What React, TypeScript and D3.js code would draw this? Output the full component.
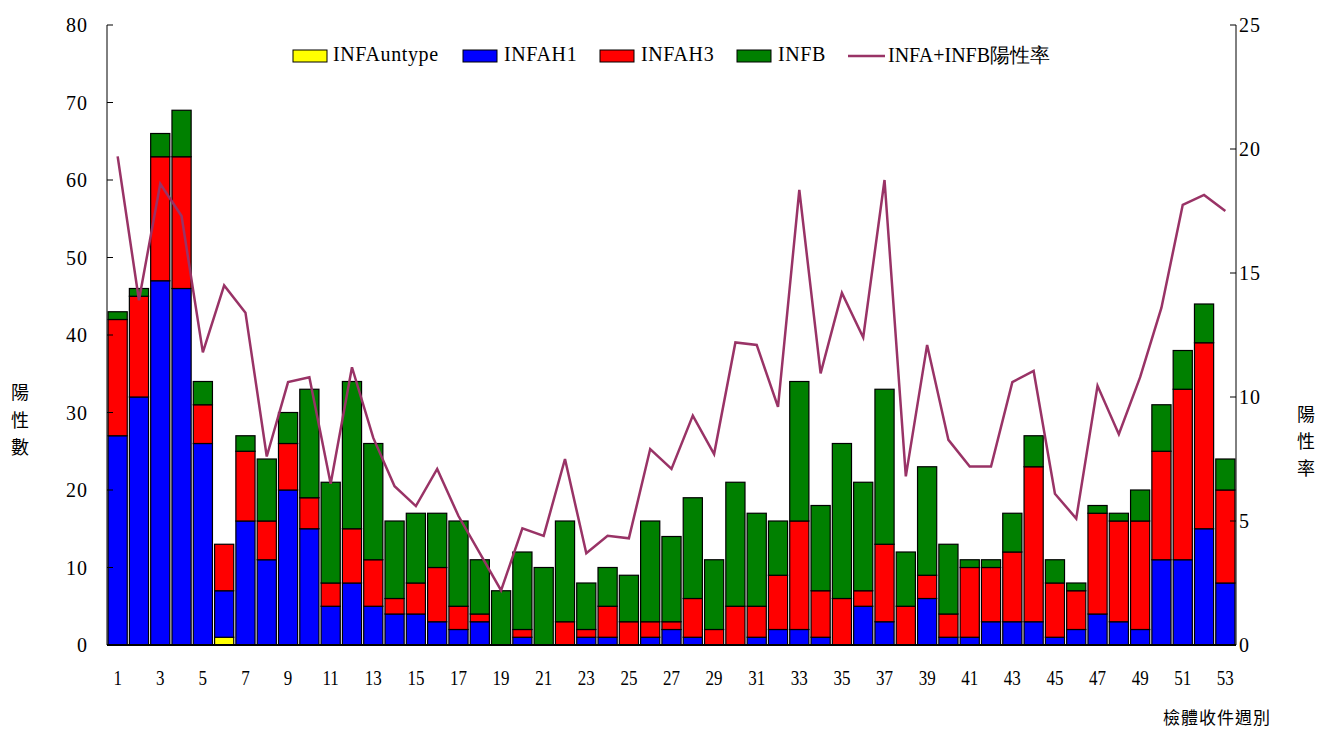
import React from "react";
import * as d3 from "d3";

const weeks = d3.range(1, 54);
const untype = [0,0,0,0,0,1,0,0,0,0,0,0,0,0,0,0,0,0,0,0,0,0,0,0,0,0,0,0,0,0,0,0,0,0,0,0,0,0,0,0,0,0,0,0,0,0,0,0,0,0,0,0,0];
const h1 = [27,32,47,46,26,6,16,11,20,15,5,8,5,4,4,3,2,3,0,1,0,0,1,1,0,1,2,1,0,0,1,2,2,1,0,5,3,0,6,1,1,3,3,3,1,2,4,3,2,11,11,15,8];
const h3 = [15,13,16,17,5,6,9,5,6,4,3,7,6,2,4,7,3,1,0,1,0,3,1,4,3,2,1,5,2,5,4,7,14,6,6,2,10,5,3,3,9,7,9,20,7,5,13,13,14,14,22,24,12];
const infb = [1,1,3,6,3,0,2,8,4,14,13,19,15,10,9,7,11,7,7,10,10,13,6,5,6,13,11,13,9,16,12,7,18,11,20,14,20,7,14,9,1,1,5,4,3,1,1,1,4,6,5,5,4];
const rate = [19.7,13.9,18.6,17.3,11.8,14.5,13.4,7.6,10.6,10.8,6.5,11.2,8.35,6.4,5.6,7.1,5.2,3.7,2.2,4.7,4.4,7.5,3.7,4.4,4.3,7.9,7.1,9.25,7.7,12.2,12.1,9.6,18.35,10.95,14.2,12.4,18.75,6.8,12.1,8.27,7.2,7.2,10.6,11.05,6.1,5.1,10.45,8.5,10.8,13.6,17.75,18.15,17.5];

const leftTicks = [0, 10, 20, 30, 40, 50, 60, 70, 80];
const rightTicks = [0, 5, 10, 15, 20, 25];
const xTickWeeks = weeks.filter((w) => w % 2 === 1);

const seriesKeys = ["INFAuntype", "INFAH1", "INFAH3", "INFB"];
const seriesColors = ["#ffff00", "#0000ff", "#ff0000", "#008000"];
const lineLabel = "INFA+INFB陽性率";
const lineColor = "#993366";

const W = 1318, H = 731;
const L = 107, R = 1236, T = 25, B = 645;
const serif = "'Liberation Serif', 'DejaVu Serif', serif";
const cjk = "'Noto Sans CJK TC', 'Noto Sans CJK SC', sans-serif";

export default function App() {
  const x = d3.scaleBand<number>().domain(weeks).range([L, R]).paddingInner(0.1).paddingOuter(0.05);
  const yL = d3.scaleLinear().domain([0, 80]).range([B, T]);
  const yR = d3.scaleLinear().domain([0, 25]).range([B, T]);

  const table = weeks.map((w, i) => ({
    week: w,
    INFAuntype: untype[i],
    INFAH1: h1[i],
    INFAH3: h3[i],
    INFB: infb[i],
  }));
  const stacked = d3.stack<any>().keys(seriesKeys)(table);

  const line = d3
    .line<number>()
    .x((_, i) => (x(weeks[i]) as number) + x.bandwidth() / 2)
    .y((d) => yR(d));

  const legendBoxes = [
    { box: 293, text: 333 },
    { box: 463, text: 504 },
    { box: 600, text: 641 },
    { box: 737, text: 778 },
  ];

  return (
    <svg width={W} height={H} style={{ position: "absolute", left: 0, top: 0, background: "#fff" }}>
      {stacked.map((s, si) => (
        <g key={s.key}>
          {s.map((d, i) =>
            d[1] - d[0] > 0 ? (
              <rect
                key={i}
                x={x(weeks[i])}
                y={yL(d[1])}
                width={x.bandwidth()}
                height={yL(d[0]) - yL(d[1])}
                fill={seriesColors[si]}
                stroke="#000"
                strokeWidth={1.2}
              />
            ) : null
          )}
        </g>
      ))}

      <path d={line(rate) || ""} fill="none" stroke={lineColor} strokeWidth={2.5} strokeLinejoin="miter" />

      {/* axes */}
      <line x1={L} x2={L} y1={T} y2={B} stroke="#000" strokeWidth={1} />
      <line x1={R} x2={R} y1={T} y2={B} stroke="#000" strokeWidth={1} />
      <line x1={L} x2={R} y1={B} y2={B} stroke="#000" strokeWidth={2} />
      {leftTicks.map((t) => (
        <g key={"l" + t}>
          <line x1={L} x2={L + 6} y1={yL(t)} y2={yL(t)} stroke="#000" />
          <text x={88} y={yL(t)} dy="0.35em" textAnchor="end" fontFamily={serif} fontSize={20} letterSpacing={1} fill="#000">
            {t}
          </text>
        </g>
      ))}
      {rightTicks.map((t) => (
        <g key={"r" + t}>
          <line x1={R - 6} x2={R} y1={yR(t)} y2={yR(t)} stroke="#000" />
          <text x={1239} y={yR(t)} dy="0.35em" textAnchor="start" fontFamily={serif} fontSize={20} letterSpacing={1} fill="#000">
            {t}
          </text>
        </g>
      ))}
      {xTickWeeks.map((w) => {
        const cx = (x(w) as number) + x.bandwidth() / 2;
        return (
          <text
            key={"x" + w}
            transform={`translate(${cx},685) scale(0.85,1)`}
            textAnchor="middle"
            fontFamily={serif}
            fontSize={20}
            fill="#000"
          >
            {w}
          </text>
        );
      })}

      {/* axis titles */}
      {["陽", "性", "數"].map((c, i) => (
        <text key={"lt" + i} x={20} y={393 + i * 27.5} dy="0.35em" textAnchor="middle" fontFamily={cjk} fontSize={18} fill="#000">
          {c}
        </text>
      ))}
      {["陽", "性", "率"].map((c, i) => (
        <text key={"rt" + i} x={1306} y={415 + i * 27} dy="0.35em" textAnchor="middle" fontFamily={cjk} fontSize={18} fill="#000">
          {c}
        </text>
      ))}
      <text x={1217} y={718} dy="0.35em" textAnchor="middle" fontFamily={cjk} fontSize={17} letterSpacing={1} fill="#000">
        檢體收件週別
      </text>

      {/* legend */}
      {seriesKeys.map((k, i) => (
        <g key={"lg" + k}>
          <rect x={legendBoxes[i].box} y={50} width={34} height={12} fill={seriesColors[i]} stroke="#000" strokeWidth={1} />
          <text x={legendBoxes[i].text} y={61} fontFamily={serif} fontSize={20} letterSpacing={0.6} fill="#000">
            {k}
          </text>
        </g>
      ))}
      <line x1={848} x2={885} y1={56} y2={56} stroke={lineColor} strokeWidth={2.5} />
      <text x={888} y={62} fontFamily={serif} fontSize={20} fill="#000">
        {lineLabel}
      </text>
    </svg>
  );
}
